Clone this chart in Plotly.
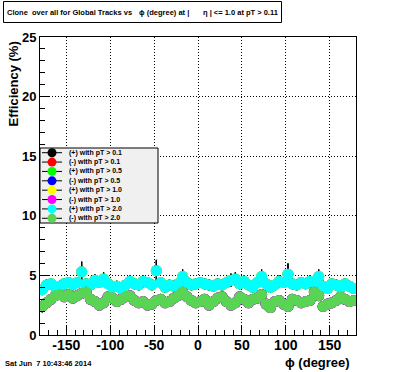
import plotly.graph_objects as go

# ---------------- data ----------------
phi = [-177.5 + 5 * i for i in range(72)]

plus_vals = [3.8, 4.2, 4.3, 4.0, 4.1, 4.3, 4.4, 4.2, 4.4, 5.3,
             4.3, 4.2, 4.6, 4.4, 4.7, 4.3, 4.0, 4.1, 3.9, 4.2,
             4.5, 4.3, 4.2, 4.5, 4.4, 4.2, 5.4, 4.4, 4.0, 4.2,
             4.1, 4.3, 4.9, 4.4, 4.2, 4.3, 4.4, 4.3, 4.2, 4.1,
             4.3, 4.2, 4.4, 4.6, 4.7, 4.3, 4.5, 4.2, 4.0, 4.4,
             4.9, 4.3, 4.0, 4.2, 4.5, 4.4, 5.1, 4.3, 4.2, 4.4,
             4.3, 4.5, 4.4, 4.9, 4.1, 3.9, 4.3, 4.2, 4.0, 4.3,
             4.1, 3.9]

minus_vals = [2.4, 2.7, 3.0, 3.3, 3.4, 3.2, 3.4, 3.1, 3.3, 3.5,
              3.6, 3.0, 2.8, 2.5, 2.7, 3.2, 3.1, 2.8, 3.0, 3.2,
              3.3, 2.9, 2.7, 2.8, 2.5, 2.6, 2.9, 3.0, 2.7, 2.8,
              3.1, 3.3, 3.6, 3.2, 2.9, 2.7, 2.8, 3.0, 2.5, 2.8,
              3.1, 3.2, 2.8, 2.5, 2.7, 3.2, 3.0, 2.7, 3.0, 3.1,
              3.4, 2.6, 2.3, 2.8, 2.9, 2.6, 2.4, 3.0, 2.9, 2.7,
              2.8, 2.9, 3.6, 3.3, 2.4, 2.6, 2.7, 2.9, 3.2, 3.0,
              2.8, 2.9]

plus_err = [0.45, 0.45, 0.45, 0.45, 0.45, 0.45, 0.45, 0.45, 0.45, 0.85,
            0.45, 0.45, 0.5, 0.45, 0.55, 0.45, 0.45, 0.45, 0.45, 0.45,
            0.5, 0.45, 0.45, 0.5, 0.45, 0.45, 0.9, 0.45, 0.45, 0.45,
            0.45, 0.45, 0.6, 0.45, 0.45, 0.45, 0.45, 0.45, 0.45, 0.45,
            0.45, 0.45, 0.45, 0.55, 0.55, 0.45, 0.5, 0.45, 0.45, 0.45,
            0.6, 0.45, 0.45, 0.45, 0.5, 0.45, 0.9, 0.45, 0.45, 0.45,
            0.45, 0.5, 0.45, 0.6, 0.45, 0.45, 0.45, 0.45, 0.45, 0.45,
            0.45, 0.45]

minus_err = [0.5, 0.4, 0.4, 0.4, 0.4, 0.4, 0.4, 0.4, 0.4, 0.4,
             0.45, 0.4, 0.4, 0.4, 0.4, 0.4, 0.4, 0.4, 0.4, 0.4,
             0.4, 0.4, 0.4, 0.4, 0.4, 0.4, 0.4, 0.4, 0.4, 0.4,
             0.4, 0.4, 0.45, 0.4, 0.4, 0.4, 0.4, 0.4, 0.4, 0.4,
             0.4, 0.4, 0.4, 0.4, 0.4, 0.4, 0.4, 0.4, 0.4, 0.4,
             0.45, 0.4, 0.4, 0.4, 0.4, 0.4, 0.4, 0.4, 0.4, 0.4,
             0.4, 0.4, 0.45, 0.4, 0.4, 0.4, 0.4, 0.4, 0.4, 0.4,
             0.4, 0.4]

series_names = ["(+) with pT > 0.1", "(-) with pT > 0.1",
                "(+) with pT > 0.5", "(-) with pT > 0.5",
                "(+) with pT > 1.0", "(-) with pT > 1.0",
                "(+) with pT > 2.0", "(-) with pT > 2.0"]
series_colors = ["#000000", "#ff0000", "#00ff00", "#0000ff",
                 "#ffff00", "#ff00ff", "#00ffff", "#59d454"]

x_ticks = [-150, -100, -50, 0, 50, 100, 150]
y_ticks = [0, 5, 10, 15, 20, 25]

# ---------------- layout geometry ----------------
W, H = 396, 372
L, R, T, B = 40, 40, 37, 37
PW, PH = W - L - R, H - T - B


def px(x):
    return (x - L) / PW


def py(y):
    return (H - B - y) / PH


fig = go.Figure()

for name, color in zip(series_names, series_colors):
    is_plus = name.startswith("(+)")
    vals = plus_vals if is_plus else minus_vals
    errs = plus_err if is_plus else minus_err
    fig.add_trace(go.Scatter(
        x=phi, y=vals, mode="markers", name=name, showlegend=False,
        marker=dict(symbol="circle", size=11, color=color, line=dict(width=0)),
        error_y=dict(type="data", array=errs, color="black", thickness=1, width=0),
        hoverinfo="skip",
    ))

shapes = []
annotations = []

# title box
shapes.append(dict(type="rect", xref="paper", yref="paper",
                   x0=px(3.5), x1=px(281.5), y0=py(22.5), y1=py(1.5),
                   line=dict(color="black", width=1), fillcolor="white", layer="above"))
title_font = dict(family="Liberation Sans, Arial, sans-serif", size=7.5, color="black")
for txt, xp in [("<b>Clone  over all for Global Tracks vs</b>", 5),
                ("<b>ϕ (degree) at |</b>", 137),
                ("<b>η | <= 1.0 at pT > 0.11</b>", 201)]:
    annotations.append(dict(text=txt, xref="paper", yref="paper", x=px(xp), y=py(12),
                            xanchor="left", yanchor="middle", showarrow=False, font=title_font))

# legend box
shapes.append(dict(type="rect", xref="paper", yref="paper",
                   x0=px(40), x1=px(158), y0=py(223), y1=py(148),
                   line=dict(color="black", width=1), fillcolor="#f0f0f0", layer="above"))
leg_font = dict(family="Liberation Sans, Arial, sans-serif", size=7, color="black")
for i, (name, color) in enumerate(zip(series_names, series_colors)):
    yc = 152.7 + i * 9.37
    shapes.append(dict(type="line", xref="paper", yref="paper",
                       x0=px(42), x1=px(62), y0=py(yc), y1=py(yc),
                       line=dict(color="black", width=1), layer="above"))
    shapes.append(dict(type="circle", xref="paper", yref="paper",
                       x0=px(52 - 4.5), x1=px(52 + 4.5), y0=py(yc + 4.5), y1=py(yc - 4.5),
                       line=dict(width=0), fillcolor=color, layer="above"))
    annotations.append(dict(text="<b>" + name.replace(">", "&gt;") + "</b>", xref="paper", yref="paper",
                            x=px(67), y=py(yc), xanchor="left", yanchor="middle",
                            showarrow=False, font=leg_font))

# axis titles and date
annotations.append(dict(text="<b>ϕ (degree)</b>", xref="paper", yref="paper",
                        x=px(352), y=py(362.5), xanchor="right", yanchor="middle",
                        showarrow=False,
                        font=dict(family="Liberation Sans, Arial, sans-serif", size=13, color="black")))
annotations.append(dict(text="<b>Efficiency (%)</b>", xref="paper", yref="paper",
                        x=px(13), y=py(40), xanchor="center", yanchor="top", textangle=-90,
                        showarrow=False,
                        font=dict(family="Liberation Sans, Arial, sans-serif", size=13, color="black")))
annotations.append(dict(text="<b>Sat Jun  7 10:43:46 2014</b>", xref="paper", yref="paper",
                        x=px(3), y=py(363.5), xanchor="left", yanchor="middle",
                        showarrow=False,
                        font=dict(family="Liberation Sans, Arial, sans-serif", size=7.5, color="black")))

xtick_font = dict(family="Liberation Sans, Arial, sans-serif", size=14, color="black")
ytick_font = dict(family="Liberation Sans, Arial, sans-serif", size=13, color="black")

fig.update_layout(
    width=W, height=H,
    margin=dict(l=L, r=R, t=T, b=B, pad=0),
    paper_bgcolor="white", plot_bgcolor="white",
    showlegend=False,
    shapes=shapes, annotations=annotations,
    xaxis=dict(range=[-180, 180], tickmode="array", tickvals=x_ticks,
               ticktext=["<b>%d</b>" % v for v in x_ticks],
               ticks="inside", ticklen=9, tickcolor="black", tickwidth=1,
               minor=dict(dtick=10, tick0=0, ticks="inside", ticklen=5, tickcolor="black", showgrid=False),
               showline=True, linecolor="black", linewidth=1, mirror=True,
               showgrid=True, gridcolor="black", gridwidth=1, griddash="1px,2px",
               zeroline=False, tickfont=xtick_font, ticklabelstandoff=-3),
    yaxis=dict(range=[0, 25], tickmode="array", tickvals=y_ticks,
               ticktext=["<b>%d</b>" % v for v in y_ticks],
               ticks="inside", ticklen=9, tickcolor="black", tickwidth=1,
               minor=dict(dtick=1, tick0=0, ticks="inside", ticklen=5, tickcolor="black", showgrid=False),
               showline=True, linecolor="black", linewidth=1, mirror=True,
               showgrid=True, gridcolor="black", gridwidth=1, griddash="1px,2px",
               zeroline=False, tickfont=ytick_font),
)

fig.write_html("out.html",
               config={"displayModeBar": False, "staticPlot": True},
               post_script="document.body.style.margin='0';document.body.style.overflow='hidden';")
